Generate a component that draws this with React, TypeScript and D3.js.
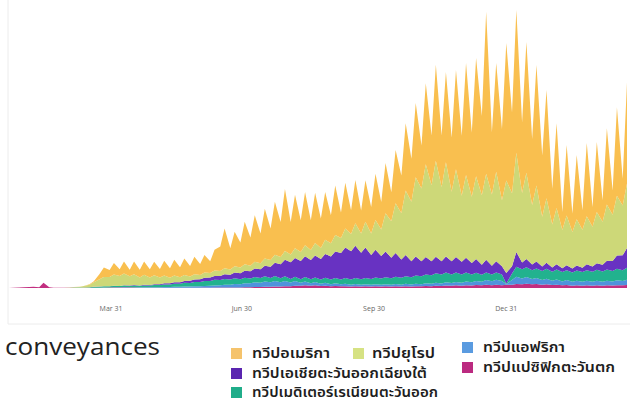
import React from 'react';
import * as d3 from 'd3';

// Weekly samples: each week gives [Monday value, Thursday value], daily new cases in thousands
const westernPacific = [
  0.1, 0.6, 1.5, 2, 3, 3.5, 2.5, 16, 2, 1, 0.5, 0.5, 0.4, 0.5, 0.3, 0.4, 0.5, 0.7, 0.8, 1,
  1.2, 1.5, 1.5, 1.7, 1.5, 1.4, 1, 1, 0.8, 0.8, 0.7, 0.8, 0.8, 0.8, 0.9, 1, 0.8, 1, 0.9, 1.2,
  1, 1.2, 1.3, 1.5, 1.5, 1.8, 1.7, 2, 2.5, 3, 3, 3.5, 3.5, 4.5, 4.5, 5.5, 5.5, 7, 6.5, 8,
  6.5, 8, 6, 7, 5.5, 6, 5, 5.5, 4.5, 5, 4.5, 5, 4.5, 5, 4.5, 5, 4.5, 5, 4.5, 5.5,
  4.5, 5.5, 5, 6, 5.5, 6.5, 6, 7.5, 7, 8, 7, 8.5, 7.5, 9, 8, 10, 8.5, 10, 8.5, 10,
  10, 12, 11, 13, 11, 12, 10, 11, 9, 10, 8, 9, 7, 8, 7, 8, 7, 8, 7, 8, 7.5, 8.5, 8, 9,
];
const africa = [
  0, 0, 0, 0, 0, 0, 0, 0, 0, 0, 0, 0, 0, 0, 0.02, 0.05, 0.1, 0.2, 0.3, 0.5,
  0.6, 0.8, 0.7, 1, 0.8, 1.1, 1, 1.4, 1.3, 1.8, 1.8, 2.3, 2.2, 2.8, 2.8, 3.5, 3.5, 4.2, 4.5, 5.2,
  5.5, 6.5, 7, 8, 8.5, 10, 10, 12, 12, 14, 13, 16, 14, 17, 13, 16, 11, 14, 9, 12,
  8, 10, 7, 9, 6, 8, 6, 7.5, 5.5, 7, 5, 6.5, 5, 6.5, 5, 6.5, 5, 7, 5.5, 7,
  6, 7.5, 6.5, 8, 7, 9, 7.5, 9.5, 8, 10, 9, 11, 10, 12, 11, 14, 12, 15, 13, 2,
  14, 22, 18, 20, 16, 18, 14, 17, 13, 16, 12, 15, 12, 14, 12, 14, 12, 14, 12, 14, 12, 15, 13, 16,
];
const eastMediterranean = [
  0, 0, 0, 0, 0, 0, 0, 0, 0, 0, 0.05, 0.2, 0.4, 0.8, 1, 1.3, 1.5, 2.5, 3, 3.5,
  3.5, 4, 3.5, 4.5, 4, 5, 4.5, 5.5, 5.5, 6.5, 6.5, 7.5, 7.5, 9, 9, 11, 11, 13, 13, 15,
  15, 17, 16, 18, 16, 18, 15, 17, 14, 16, 14, 16, 13, 15, 12, 14, 11, 13, 11, 13,
  12, 14, 13, 15, 14, 16, 15, 17, 16, 18, 17, 19, 18, 20, 19, 21, 20, 22, 21, 23,
  22, 25, 24, 27, 26, 29, 27, 30, 26, 29, 25, 27, 23, 25, 21, 23, 20, 22, 19, 1,
  20, 30, 28, 30, 27, 29, 27, 30, 27, 30, 28, 30, 28, 31, 29, 32, 30, 33, 31, 34, 32, 35, 33, 36,
];
const southEastAsia = [
  0, 0, 0, 0, 0, 0, 0, 0, 0, 0, 0, 0, 0, 0, 0, 0, 0.05, 0.1, 0.1, 0.2,
  0.3, 0.5, 0.6, 0.8, 1, 1.3, 1.4, 1.8, 1.8, 2.5, 2.5, 3.5, 3.5, 4.5, 5, 6, 6.5, 7.5, 8, 9.5,
  10, 11.5, 12, 14, 14, 17, 18, 21, 22, 26, 27, 32, 34, 40, 42, 50, 50, 57, 55, 63,
  58, 66, 62, 72, 70, 80, 80, 92, 85, 98, 80, 92, 72, 84, 68, 78, 62, 72, 55, 64,
  48, 57, 45, 53, 42, 50, 40, 48, 40, 47, 38, 45, 35, 42, 30, 38, 27, 34, 25, 32,
  22, 45, 20, 25, 17, 21, 14, 18, 13, 16, 12, 15, 12, 15, 13, 18, 16, 20, 20, 26, 30, 40, 45, 60,
];
const europe = [
  0, 0, 0, 0, 0, 0, 0, 0, 0, 0, 0.1, 0.3, 0.5, 1.5, 2, 4, 8, 14, 22, 28,
  28, 34, 30, 36, 28, 33, 24, 30, 22, 27, 20, 24, 17, 21, 15, 18, 13, 16, 13, 16,
  14, 17, 15, 18, 16, 19, 17, 20, 17, 20, 18, 22, 20, 24, 22, 26, 24, 29, 27, 33,
  30, 38, 33, 43, 40, 50, 45, 58, 52, 68, 58, 78, 65, 90, 80, 115, 110, 150, 140, 195,
  180, 240, 220, 280, 230, 290, 225, 285, 210, 265, 200, 250, 200, 250, 210, 260, 215, 270, 200, 280,
  220, 300, 210, 260, 180, 230, 150, 195, 130, 170, 115, 150, 110, 140, 115, 145, 120, 155, 130, 170, 140, 180, 150, 195,
];
const americas = [
  0, 0, 0, 0, 0, 0, 0, 0, 0, 0, 0, 0, 0, 0, 0.1, 0.3, 1, 3, 16, 29,
  21, 35, 20, 36, 20, 38, 23, 40, 25, 41, 26, 44, 29, 47, 30, 50, 32, 53, 33, 53,
  35, 62, 74, 120, 64, 104, 76, 128, 85, 141, 90, 150, 95, 160, 106, 188, 98, 162, 96, 161,
  90, 152, 89, 144, 84, 150, 77, 138, 72, 130, 70, 125, 80, 140, 83, 152, 88, 161, 114, 203,
  130, 224, 130, 245, 150, 290, 155, 273, 164, 300, 181, 338, 194, 357, 240, 490, 188, 329, 215, 415,
  244, 431, 213, 395, 199, 364, 185, 327, 108, 256, 55, 213, 56, 194, 59, 221, 60, 211, 65, 231, 73, 268, 81, 306,
];

const seriesKeys = ['westernPacific', 'africa', 'eastMediterranean', 'southEastAsia', 'europe', 'americas'];
const seriesLabels = [
  'ทวีปแปซิฟิกตะวันตก',
  'ทวีปแอฟริกา',
  'ทวีปเมดิเตอร์เรเนียนตะวันออก',
  'ทวีปเอเชียตะวันออกเฉียงใต้',
  'ทวีปยุโรป',
  'ทวีปอเมริกา',
];
const seriesColors = ['#c22f80', '#4f93dc', '#22b28e', '#6832c2', '#cdd878', '#f9bf4f'];
const legendColors = ['#bb2a80', '#5a9be0', '#20ad8a', '#5a25b0', '#d6e283', '#f5c36c'];

const tickDates = ['2020-03-31', '2020-06-30', '2020-09-30', '2020-12-31'];
const tickLabels = ['Mar 31', 'Jun 30', 'Sep 30', 'Dec 31'];
const legendTitle = 'conveyances';

const seriesData: Record<string, number[]> = {
  westernPacific, africa, eastMediterranean, southEastAsia, europe, americas,
};

const weekStarts = d3.timeMonday.range(new Date(2020, 0, 20), new Date(2021, 2, 23));

const rows = weekStarts.flatMap((mon, k) =>
  [0, 1].map((j) => {
    const row: any = { date: j ? d3.timeDay.offset(mon, 3) : mon };
    seriesKeys.forEach((key) => {
      row[key] = seriesData[key][2 * k + j];
    });
    return row;
  })
);

const W = 637;
const H = 403;

export default function App() {
  const x = d3
    .scaleTime()
    .domain([new Date(2020, 0, 20), new Date(2021, 2, 25)])
    .range([9, 627]);
  const y = d3.scaleLinear().domain([0, 840]).range([288, 10]);

  const stacked = d3.stack<any>().keys(seriesKeys)(rows);
  const area = d3
    .area<any>()
    .x((d) => x(d.data.date))
    .y0((d) => y(d[0]))
    .y1((d) => y(d[1]))
    .curve(d3.curveLinear);

  const font = "'Open Sans', 'Noto Sans', 'Noto Sans Thai', Tahoma, 'DejaVu Sans', sans-serif";

  // legend layout: [seriesIndex, swatchX, swatchY, textX, textWidth]
  const legendItems: [number, number, number, number, number][] = [
    [5, 231, 348, 252, 78],
    [4, 353, 348, 372, 63],
    [1, 462, 342, 483, 82],
    [3, 231, 368, 252, 175],
    [0, 462, 362, 483, 132],
    [2, 231, 387, 252, 186],
  ];

  return (
    <div style={{ position: 'absolute', left: 0, top: 0 }}>
      <svg width={W} height={H} style={{ display: 'block', background: '#fff' }}>
        <path d="M8,0 V324 H630" fill="none" stroke="#ececec" strokeWidth={1} />
        <g>
          {stacked.map((s, i) => (
            <path key={s.key} d={area(s) || ''} fill={seriesColors[i]} />
          ))}
        </g>
        <g fontFamily={font} fontSize={7} fill="#666" textAnchor="middle">
          {tickDates.map((t, i) => (
            <text key={t} x={x(new Date(t + 'T00:00:00'))} y={311}>
              {tickLabels[i]}
            </text>
          ))}
        </g>
        <text x={5} y={355} fontFamily={font} fontSize={24} fill="#222" textLength={155} lengthAdjust="spacingAndGlyphs">
          {legendTitle}
        </text>
        <g fontFamily={font} fontSize={13.5} fill="#1e1e1e" fontWeight={600}>
          {legendItems.map(([si, sx, sy, tx, tw]) => (
            <g key={si}>
              <rect x={sx} y={sy} width={11} height={11} fill={legendColors[si]} />
              <text x={tx} y={sy + 10} textLength={tw} lengthAdjust="spacingAndGlyphs">
                {seriesLabels[si]}
              </text>
            </g>
          ))}
        </g>
      </svg>
    </div>
  );
}
